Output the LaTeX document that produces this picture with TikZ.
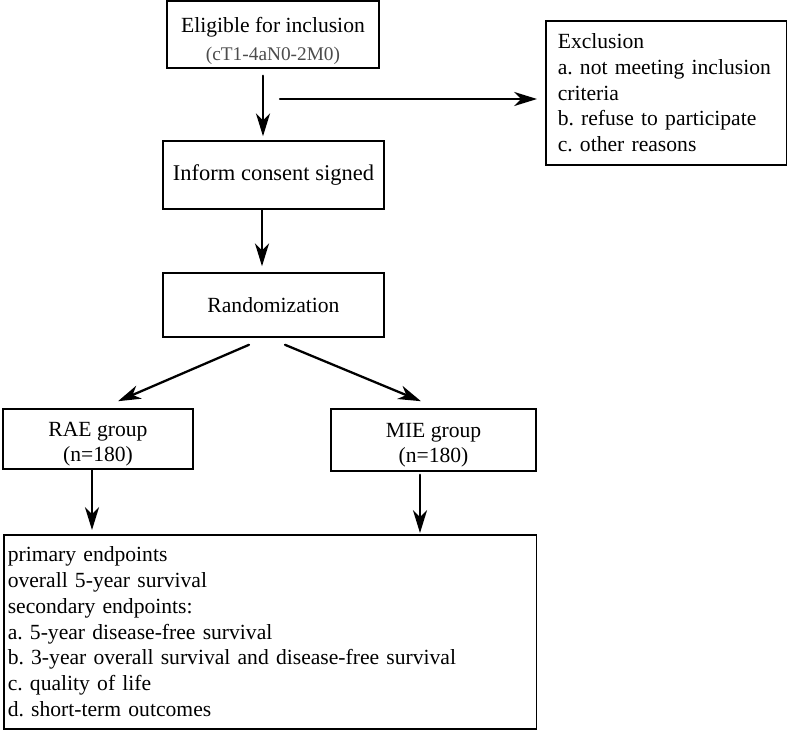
\documentclass[tikz,border=0pt]{standalone}
\usepackage{fontspec}
\setmainfont{Liberation Serif}
\usetikzlibrary{arrows.meta}
\frenchspacing

\begin{document}
\begin{tikzpicture}
	[x=0.02cm,y=-0.02cm,line cap=round,
	%Styles
	box/.style={draw,line width=0.9pt,inner sep=0pt,align=center,font=\fontsize{12.3}{14.7}\selectfont},
	list box/.style={box,anchor=north west,align=left,inner xsep=#1},
	arrow/.style={-{Stealth[length=13pt,width=8pt,inset=4pt]},line width=1.3pt}
	]
	
	%Frame
	\useasboundingbox (0,0) rectangle (787,730);
	
	%The boxes
	\node[box,minimum width=4.24cm,minimum height=1.34cm] (elig) at (273,34.5)
		{\rule{0pt}{16.2pt}Eligible for inclusion\\[1pt]{\fontsize{11}{13}\selectfont\color{black!70}(cT1-4aN0-2M0)}};
	\node[list box=0.24cm,text width=4.34cm,minimum height=2.88cm] (excl) at (545,20)
		{Exclusion\\a. not meeting inclusion\\criteria\\b. refuse to participate\\c. other reasons};
	\node[box,minimum width=4.42cm,minimum height=1.36cm,font=\fontsize{12.8}{15}\selectfont] (inform) at (273.5,175) {Inform consent signed};
	\node[box,minimum width=4.42cm,minimum height=1.28cm] (rand) at (273.5,305) {Randomization};
	\node[box,minimum width=3.8cm,minimum height=1.2cm] (rae) at (98,439) {\rule{0pt}{14pt}RAE group\\(n=180)};
	\node[box,minimum width=4.1cm,minimum height=1.24cm] (mie) at (433.5,440) {\rule{0pt}{14pt}MIE group\\(n=180)};
	\node[list box=0.08cm,text width=10.5cm,minimum height=3.88cm] (ends) at (3,534)
		{primary endpoints\\overall 5-year survival\\secondary endpoints:\\a. 5-year disease-free survival\\
		b. 3-year overall survival and disease-free survival\\c. quality of life\\d. short-term outcomes};
	
	%The arrows
	\draw[arrow] ([xshift=-0.2cm,yshift=-0.14cm]elig.south) -- ([xshift=-0.2cm,yshift=0.08cm]elig.south |- inform.north);
	\coordinate (split) at (280,99);
	\draw[arrow,shorten >=0.16cm] (split) -- (split -| excl.west);
	\draw[arrow] ([xshift=-0.23cm]inform.south) -- ([xshift=-0.23cm,yshift=0.12cm]inform.south |- rand.north);
	\draw[arrow] ([xshift=-0.49cm,yshift=-0.14cm]rand.south) -- ([xshift=0.4cm,yshift=0.14cm]rae.north);
	\draw[arrow] ([xshift=0.23cm,yshift=-0.14cm]rand.south) -- ([xshift=-0.25cm,yshift=0.14cm]mie.north);
	\draw[arrow] ([xshift=-0.12cm]rae.south) -- ([xshift=-0.12cm,yshift=0.08cm]rae.south |- ends.north);
	\draw[arrow] ([xshift=-0.27cm,yshift=-0.06cm]mie.south) -- ([xshift=-0.27cm,yshift=0.02cm]mie.south |- ends.north);
\end{tikzpicture}
\end{document}
